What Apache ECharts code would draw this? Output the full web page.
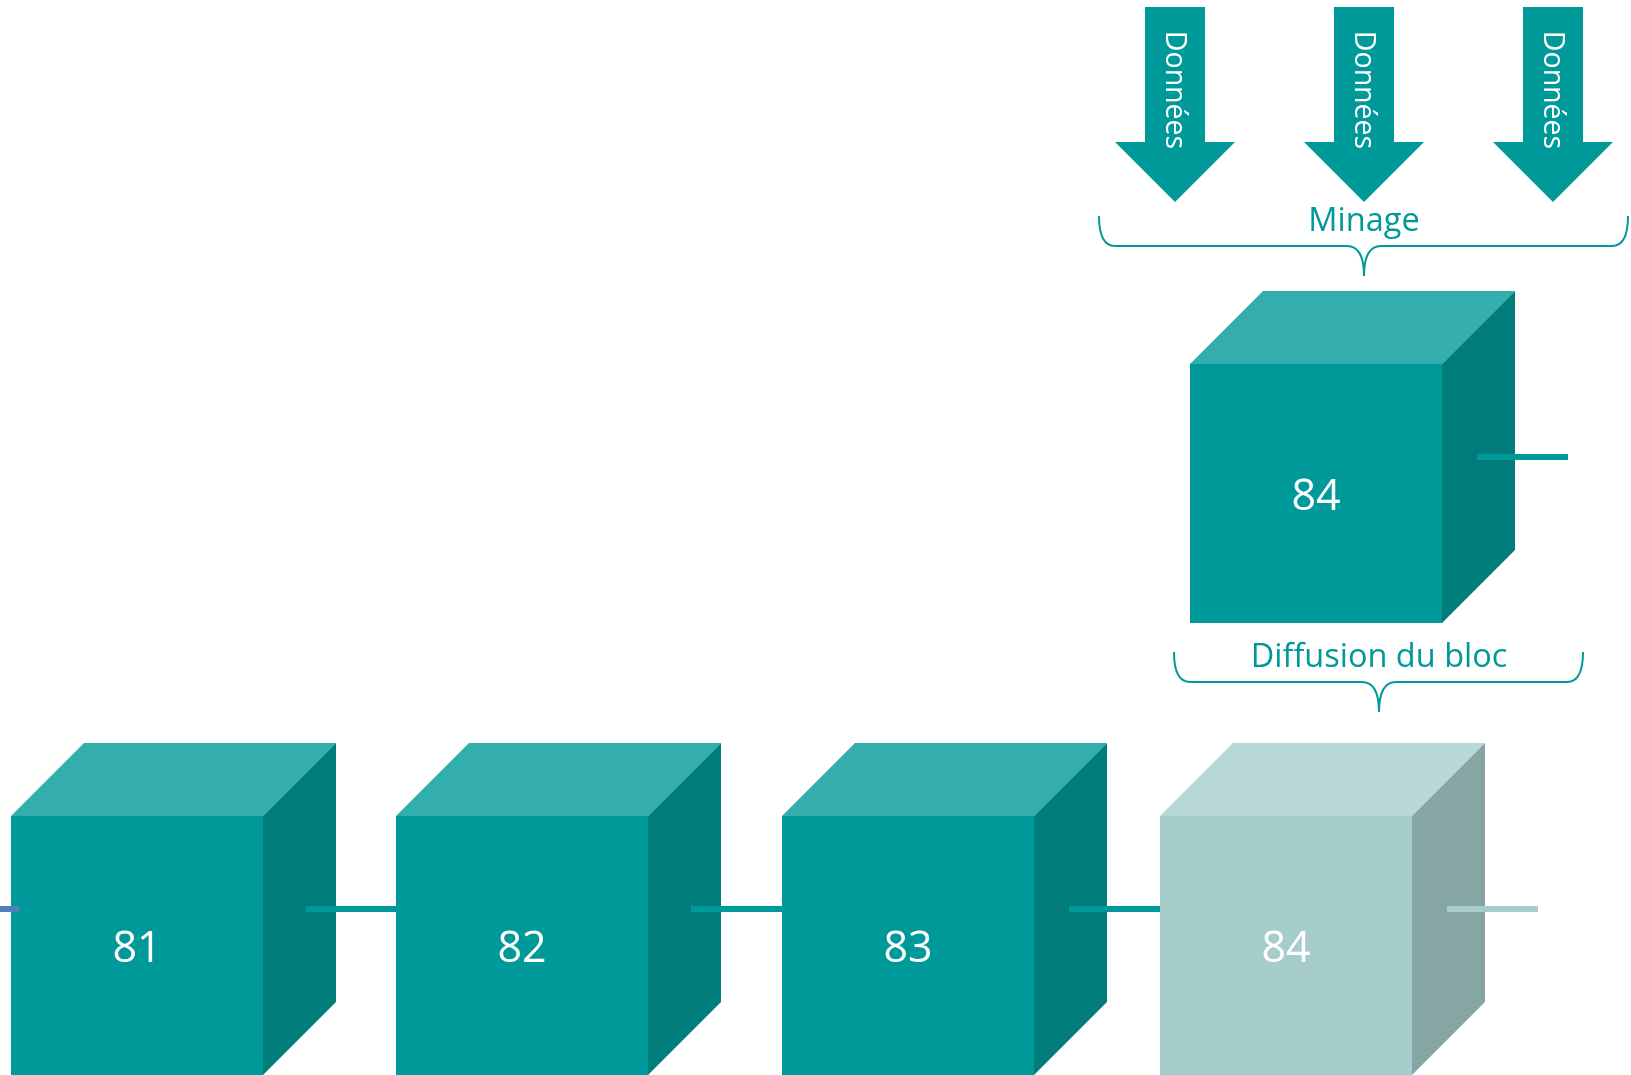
<!DOCTYPE html>
<html>
<head>
<meta charset="utf-8">
<script src="https://cdn.jsdelivr.net/npm/echarts@6/dist/echarts.min.js"></script>
<style>
  html, body { margin: 0; padding: 0; background: #fff; }
  #chart { width: 1631px; height: 1075px; }
</style>
</head>
<body>
<div id="chart"></div>
<script>
// chain of blocks along the bottom
const chainBlocks = ['81', '82', '83', '84'];
const chainX = [11, 396, 782, 1160];
const chainTop = [816, 816, 816, 816];
const chainFaded = [0, 0, 0, 1];
const chainLinkStart = [306, 691, 1069, 1447];
const chainLinkEnd = [396, 782, 1160, 1538];

// block being mined (top right)
const minedBlocks = ['84'];
const minedX = [1190];
const minedTop = [364];
const minedLinkStart = [1477];
const minedLinkEnd = [1568];

// incoming data arrows
const arrowLabels = ['Données', 'Données', 'Données'];
const arrowX = [1175, 1364, 1553];

// braces
const braceLabels = ['Minage', 'Diffusion du bloc'];
const braceLeft = [1099, 1174];
const braceRight = [1628, 1583];
const braceMid = [1364, 1379];
const braceY = [246, 682];

const TEAL = '#009999';
const darkPal = { front: '#009999', top: '#33adad', side: '#007c7a', stub: '#009999' };
const lightPal = { front: '#a6cdcc', top: '#b8d8d7', side: '#86a6a4', stub: '#a6cdcc' };
const FONT = '"Open Sans", sans-serif';

const chart = echarts.init(document.getElementById('chart'));

function cubeRenderer(labels, faded) {
  return function (params, api) {
    const x = api.value(0);
    const y = api.value(1);
    const pal = faded[params.dataIndex] ? lightPal : darkPal;
    const p = (dx, dy) => api.coord([x + dx, y + dy]);
    const W = 252, H = 259, D = 73;
    const fl = p(0, 0), fr = p(W, 0), bl = p(0, H), br = p(W, H);
    const tl = p(D, -D), tr = p(W + D, -D), sr = p(W + D, H - D);
    return {
      type: 'group',
      children: [
        { type: 'polygon', shape: { points: [fl, tl, tr, fr] }, style: { fill: pal.top } },
        { type: 'polygon', shape: { points: [fr, tr, sr, br] }, style: { fill: pal.side } },
        {
          type: 'rect',
          shape: { x: fl[0], y: fl[1], width: fr[0] - fl[0], height: bl[1] - fl[1] },
          style: { fill: pal.front }
        },
        {
          type: 'text',
          x: (fl[0] + fr[0]) / 2,
          y: (fl[1] + bl[1]) / 2 + 4,
          style: {
            text: labels[params.dataIndex],
            fill: '#fff',
            font: '43px ' + FONT,
            align: 'center',
            verticalAlign: 'middle'
          }
        }
      ]
    };
  };
}

// connectors: [x1, x2, y, kind]  kind 0 = teal, 1 = faded, 2 = previous chain (blue)
const connectors = [[0, chainX[0] + 8, chainTop[0] + 93, 2]];
chainBlocks.forEach((b, i) => {
  connectors.push([chainLinkStart[i], chainLinkEnd[i], chainTop[i] + 93, chainFaded[i]]);
});
minedBlocks.forEach((b, i) => {
  connectors.push([minedLinkStart[i], minedLinkEnd[i], minedTop[i] + 93, 0]);
});

function renderConnector(params, api) {
  const a = api.coord([api.value(0), api.value(2)]);
  const b = api.coord([api.value(1), api.value(2)]);
  const kind = api.value(3);
  const color = kind === 2 ? '#4f7fbd' : kind === 1 ? lightPal.stub : darkPal.stub;
  return {
    type: 'rect',
    shape: { x: a[0], y: a[1] - 3, width: b[0] - a[0], height: 6 },
    style: { fill: color }
  };
}

function renderArrow(params, api) {
  const cx = api.value(0);
  const c = (dx, y) => api.coord([cx + dx, y]);
  const pts = [c(-30, 7), c(30, 7), c(30, 142), c(60, 142), c(0, 202), c(-60, 142), c(-30, 142)];
  const mid = c(-1, 90);
  return {
    type: 'group',
    children: [
      { type: 'polygon', shape: { points: pts }, style: { fill: TEAL } },
      {
        type: 'text',
        x: mid[0],
        y: mid[1],
        rotation: -Math.PI / 2,
        style: {
          text: arrowLabels[params.dataIndex],
          fill: '#fff',
          font: '28.5px ' + FONT,
          align: 'center',
          verticalAlign: 'middle'
        }
      }
    ]
  };
}

function renderBrace(params, api) {
  const i = params.dataIndex;
  const L = api.coord([braceLeft[i], braceY[i]]);
  const R = api.coord([braceRight[i], braceY[i]]);
  const M = api.coord([braceMid[i], braceY[i]]);
  const y = L[1], T = y - 30, B = y + 30;
  const r = 16, s = 17;
  const d = [
    'M', L[0], T,
    'Q', L[0], y, L[0] + r, y,
    'L', M[0] - s, y,
    'Q', M[0], y, M[0], B,
    'Q', M[0], y, M[0] + s, y,
    'L', R[0] - r, y,
    'Q', R[0], y, R[0], T
  ].join(' ');
  return {
    type: 'group',
    children: [
      {
        type: 'path',
        shape: { pathData: d },
        style: { fill: null, stroke: TEAL, lineWidth: 2 }
      },
      {
        type: 'text',
        x: M[0],
        y: y - 24,
        style: {
          text: braceLabels[i],
          fill: TEAL,
          font: '32.5px ' + FONT,
          align: 'center',
          verticalAlign: 'middle'
        }
      }
    ]
  };
}

const option = {
  animation: false,
  backgroundColor: '#fff',
  grid: { left: 0, right: 0, top: 0, bottom: 0 },
  xAxis: { type: 'value', min: 0, max: 1631, show: false },
  yAxis: { type: 'value', min: 0, max: 1075, inverse: true, show: false },
  series: [
    {
      type: 'custom',
      name: 'chain',
      clip: false,
      z: 2,
      renderItem: cubeRenderer(chainBlocks, chainFaded),
      data: chainX.map((x, i) => [x, chainTop[i]])
    },
    {
      type: 'custom',
      name: 'mined',
      clip: false,
      z: 2,
      renderItem: cubeRenderer(minedBlocks, [0]),
      data: minedX.map((x, i) => [x, minedTop[i]])
    },
    {
      type: 'custom',
      name: 'links',
      clip: false,
      z: 3,
      renderItem: renderConnector,
      data: connectors
    },
    {
      type: 'custom',
      name: 'data',
      clip: false,
      z: 2,
      renderItem: renderArrow,
      data: arrowX.map((x) => [x, 0])
    },
    {
      type: 'custom',
      name: 'braces',
      clip: false,
      z: 2,
      renderItem: renderBrace,
      data: braceLeft.map((x, i) => [x, braceY[i]])
    }
  ]
};
chart.setOption(option);
</script>
</body>
</html>
